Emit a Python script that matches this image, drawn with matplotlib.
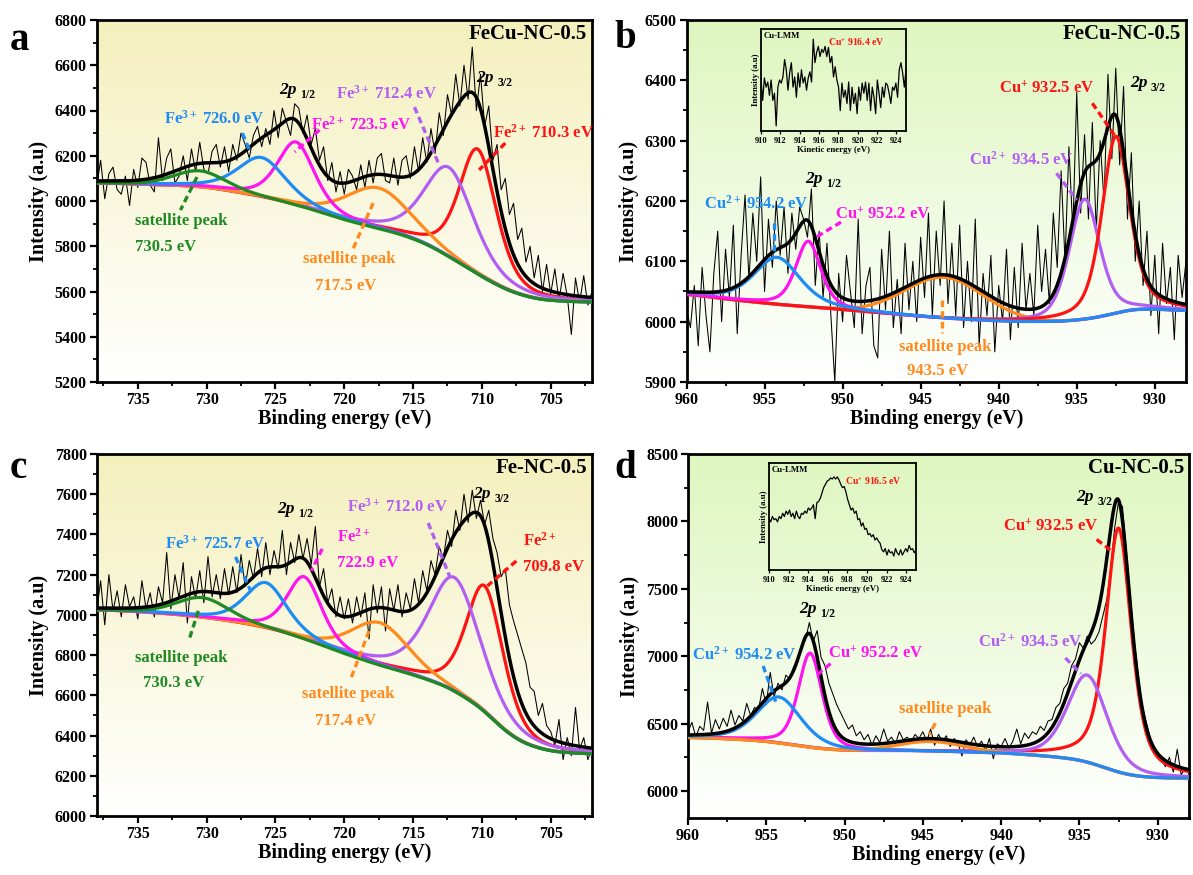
import numpy as np
import matplotlib
matplotlib.use("Agg")
import matplotlib.pyplot as plt
from matplotlib.colors import LinearSegmentedColormap
from matplotlib.ticker import MultipleLocator

plt.rcParams.update({
    "font.family": ["Liberation Serif", "DejaVu Serif"],
    "font.weight": "bold",
    "axes.labelweight": "bold",
    "mathtext.fontset": "custom",
    "mathtext.rm": "Liberation Serif:bold",
    "mathtext.bf": "Liberation Serif:bold",
    "mathtext.it": "Liberation Serif:bold:italic",
})

# ---------------- measured spectra ----------------
FE_BE = np.linspace(738.0, 702.0, 121)      # Fe 2p binding energy grid (eV)
CU_BE = np.linspace(960.0, 928.0, 129)      # Cu 2p binding energy grid (eV)
KE = np.linspace(910.0, 925.0, 87)          # Cu LMM kinetic energy grid (eV)

A_RAW = [
    6060, 6180, 6010, 6120, 6150, 6050, 6030, 6110, 5980, 6140,
    6060, 6190, 6170, 6070, 6040, 6280, 6090, 6190, 6230, 6080,
    6110, 6200, 6090, 6230, 6130, 6260, 6140, 6120, 6220, 6250,
    6150, 6240, 6130, 6250, 6180, 6300, 6250, 6190, 6290, 6330,
    6240, 6320, 6250, 6400, 6280, 6410, 6350, 6290, 6430, 6410,
    6300, 6380, 6250, 6320, 6180, 6240, 6090, 6170, 6040, 6130,
    6030, 6140, 6110, 6050, 6160, 6060, 6180, 6080, 6190, 6210,
    6090, 6080, 6190, 6070, 6180, 6200, 6100, 6240, 6130, 6280,
    6170, 6320, 6210, 6390, 6290, 6470, 6380, 6560, 6420, 6600,
    6450, 6680, 6400, 6560, 6330, 6420, 6180, 6250, 6050, 6100,
    5940, 5990, 5830, 5880, 5730, 5800, 5660, 5760, 5600, 5720,
    5590, 5700, 5560, 5680, 5580, 5410, 5660, 5550, 5670, 5540,
    5600,
]

B_RAW = [
    6020, 5990, 6060, 5960, 6090, 6010, 5950, 6080, 6150, 6000,
    6120, 6040, 6160, 5980, 6110, 6210, 6070, 6180, 6100, 6240,
    6050, 6170, 6090, 6200, 6110, 6190, 6080, 6180, 6120, 6190,
    6170, 6140, 6220, 6060, 6150, 6040, 6130, 6010, 5900, 6080,
    6000, 6110, 6050, 5990, 6170, 5980, 6060, 6090, 5960, 5940,
    6120, 6020, 6150, 5990, 6070, 5980, 6130, 6020, 6100, 6000,
    6140, 6040, 6180, 6010, 6150, 6060, 6200, 6030, 6130, 6010,
    6160, 5990, 6100, 6000, 6170, 5960, 6080, 6010, 6110, 5950,
    6060, 6000, 6120, 5970, 6090, 5990, 6130, 6020, 6080, 6010,
    6160, 6050, 6120, 6030, 6180, 6090, 6250, 6100, 6290, 6150,
    6380, 6180, 6310, 6170, 6330, 6150, 6300, 6200, 6410, 6270,
    6420, 6260, 6390, 6170, 6280, 6100, 6200, 6060, 6150, 6010,
    6110, 5980, 6130, 6030, 6090, 5970, 6110, 6040, 6100,
]

C_RAW = [
    7010, 7170, 6950, 7200, 7020, 7120, 6990, 7150, 7040, 7090,
    6980, 7170, 7030, 7110, 6990, 7140, 7060, 7310, 7030, 7200,
    7080, 7260, 6960, 7190, 7080, 7220, 7060, 7290, 7090, 7200,
    7080, 7230, 7100, 7240, 7110, 7300, 7140, 7270, 7180, 7330,
    7190, 7360, 7200, 7320, 7230, 7420, 7200, 7360, 7260, 7400,
    7280, 7380, 7250, 7440, 7140, 7230, 7060, 7130, 6990, 7090,
    6980, 7080, 6960, 7090, 6990, 7110, 6880, 7150, 7010, 7140,
    6920, 7130, 7020, 7150, 6990, 7110, 7030, 7180, 7060, 7220,
    7120, 7270, 7200, 7340, 7280, 7420, 7340, 7520, 7420, 7600,
    7460, 7620, 7480, 7570, 7450, 7520, 7380, 7310, 7190, 7230,
    7050, 6970, 6900, 6830, 6760, 6640, 6620, 6500, 6560, 6450,
    6420, 6350, 6480, 6280, 6390, 6300, 6540, 6330, 6390, 6280,
    6340,
]

D_RAW = [
    6440, 6510, 6400, 6480, 6450, 6660, 6430, 6530, 6460, 6540,
    6480, 6600, 6490, 6560, 6520, 6650, 6560, 6620, 6600, 6760,
    6640, 6880, 6700, 6800, 6750, 6860, 6830, 6920, 6950, 7080,
    7120, 7250, 7110, 7190, 6990, 6930, 6800, 6720, 6640, 6580,
    6520, 6460, 6490, 6410, 6440, 6380, 6420, 6340, 6410, 6360,
    6460, 6370, 6400, 6350, 6440, 6380, 6400, 6360, 6420, 6390,
    6440, 6370, 6460, 6340, 6420, 6370, 6410, 6330, 6390, 6350,
    6260, 6380, 6340, 6400, 6330, 6370, 6300, 6390, 6240, 6350,
    6330, 6390, 6320, 6370, 6460, 6350, 6430, 6390, 6440, 6420,
    6480, 6450, 6520, 6530, 6620, 6650, 6760, 6800, 6930, 6980,
    7100, 7060, 7150, 7090, 7120, 7180, 7300, 7420, 7650, 7950,
    8150, 8110, 7780, 7450, 7120, 6870, 6640, 6520, 6400, 6330,
    6260, 6230, 6180, 6250, 6140, 6310, 6120, 6170, 6130,
]

LMM_B = [
    50, 30, 52, 43, 48, 35, 50, 30, 37, 5,
    43, 50, 47, 53, 70, 60, 40, 57, 67, 43,
    53, 33, 57, 43, 60, 47, 53, 40, 52, 58,
    48, 90, 67, 77, 83, 73, 80, 77, 83, 73,
    82, 67, 73, 53, 63, 50, 43, 20, 47, 33,
    40, 27, 48, 20, 43, 27, 37, 17, 43, 30,
    47, 37, 48, 30, 47, 20, 43, 33, 17, 50,
    37, 23, 43, 33, 47, 45, 37, 27, 43, 40,
    47, 33, 60, 67, 57, 43, 60,
]

LMM_D = [
    48, 45, 50, 47, 48, 45, 50, 48, 53, 50,
    55, 52, 56, 50, 53, 48, 55, 50, 48, 53,
    52, 55, 53, 58, 56, 58, 61, 48, 63, 64,
    67, 72, 77, 80, 83, 84, 86, 85, 87, 85,
    87, 84, 80, 77, 78, 73, 66, 61, 56, 58,
    53, 55, 47, 48, 41, 44, 38, 39, 33, 34,
    31, 33, 28, 30, 27, 25, 19, 17, 20, 14,
    19, 16, 17, 13, 20, 16, 14, 19, 14, 17,
    20, 17, 23, 19, 20, 16, 19,
]

# ---------------- peak-fit parameters ----------------
# Fe 2p, FeCu-NC-0.5: Fe2+, Fe3+, satellite, Fe2+, Fe3+, satellite
A_CENTER = [710.3, 712.4, 717.5, 723.5, 726.0, 730.5]
A_HEIGHT = [553, 395, 180, 280, 175, 72]
A_FWHM = [3.2, 4.3, 5.5, 3.2, 4.2, 4.5]
A_ETA = [0.45, 0.5, 0.3, 0.5, 0.5, 0.3]
A_BG_E = [738, 735, 732, 730, 728, 726, 724, 722, 720, 718, 716, 714, 712, 710, 708, 706, 704, 702]
A_BG_I = [6080, 6073, 6068, 6060, 6040, 6018, 5990, 5955, 5916, 5885, 5855, 5810, 5740, 5664, 5600, 5565, 5556, 5553]

# Cu 2p, FeCu-NC-0.5: Cu+, Cu2+, satellite, Cu+, Cu2+
B_CENTER = [932.5, 934.5, 943.5, 952.2, 954.2]
B_HEIGHT = [293, 199, 68, 109, 78]
B_FWHM = [2.1, 2.3, 6.0, 1.9, 3.5]
B_ETA = [0.5, 0.4, 0.0, 0.5, 0.5]
B_BG_E = [960, 957, 954, 951, 948, 945, 942, 939, 936, 934, 932.5, 931.5, 930, 928]
B_BG_I = [6046, 6036, 6028, 6022, 6015, 6008, 6003, 6000, 6000, 6005, 6014, 6021, 6021, 6018]

# Fe 2p, Fe-NC-0.5
C_CENTER = [709.8, 712.0, 717.4, 722.9, 725.7, 730.3]
C_HEIGHT = [627, 566, 212, 311, 226, 99]
C_FWHM = [3.2, 4.5, 5.0, 3.0, 3.6, 4.5]
C_ETA = [0.45, 0.5, 0.3, 0.5, 0.5, 0.3]
C_BG_E = [738, 735, 732, 730, 727.5, 725, 722.5, 720, 717.5, 715, 712.5, 710, 708.5, 707, 705, 702]
C_BG_I = [7025, 7016, 7000, 6985, 6960, 6925, 6870, 6806, 6750, 6702, 6643, 6537, 6430, 6360, 6320, 6308]

# Cu 2p, Cu-NC-0.5
D_CENTER = [932.5, 934.5, 944.5, 952.2, 954.2]
D_HEIGHT = [1810, 647, 74, 700, 342]
D_FWHM = [1.95, 3.0, 5.0, 1.8, 3.4]
D_ETA = [0.6, 0.4, 0.0, 0.45, 0.45]
D_BG_E = [960, 957, 955, 953.5, 952, 950, 945, 940, 937, 935, 934, 933, 932, 931, 930, 928]
D_BG_I = [6398, 6385, 6369, 6345, 6318, 6299, 6295, 6282, 6258, 6233, 6200, 6155, 6120, 6105, 6098, 6095]

# ---------------- styles ----------------
RED = "#FF1212"
PURPLE = "#B25EF2"
MAGENTA = "#FF14F0"
BLUE = "#1E8CF2"
ORANGE = "#FF8A1E"
GREEN = "#1F8A22"
FE_COLORS = [RED, PURPLE, ORANGE, MAGENTA, BLUE, GREEN]
CU_COLORS = [RED, PURPLE, ORANGE, MAGENTA, BLUE]
YELLOW_TOP = "#F4F0BD"
GREEN_TOP = "#DEF6BF"


def pseudo_voigt(x, c, h, w, eta):
    d = (x - c) / w
    g = np.exp(-4.0 * np.log(2.0) * d ** 2)
    lor = 1.0 / (1.0 + 4.0 * d ** 2)
    return h * (eta * lor + (1.0 - eta) * g)


def background(x, knot_e, knot_i, sigma=0.7):
    ke = np.asarray(knot_e, float)
    ki = np.asarray(knot_i, float)
    order = np.argsort(ke)
    ke, ki = ke[order], ki[order]
    fine = np.linspace(ke[0], ke[-1], 3000)
    base = np.interp(fine, ke, ki)
    step = fine[1] - fine[0]
    half = int(4 * sigma / step)
    kern = np.exp(-0.5 * (np.arange(-half, half + 1) * step / sigma) ** 2)
    kern /= kern.sum()
    padded = np.concatenate([np.full(half, base[0]), base, np.full(half, base[-1])])
    smooth = np.convolve(padded, kern, mode="valid")
    return np.interp(x, fine, smooth)


def gradient(ax, top_color):
    cmap = LinearSegmentedColormap.from_list("bg", ["#FFFFFF", top_color])
    grad = np.linspace(0, 1, 256).reshape(-1, 1)
    ax.imshow(grad, cmap=cmap, aspect="auto", extent=[0, 1, 0, 1],
              transform=ax.transAxes, origin="lower", zorder=0,
              interpolation="bicubic")


def draw_panel(ax, be, raw, xlim, ylim, centers, heights, fwhms, etas, colors,
               bg_e, bg_i, top_color, xmaj, ymaj, draw_order):
    gradient(ax, top_color)
    grid = np.linspace(xlim[0], xlim[1], 900)
    bg = background(grid, bg_e, bg_i)
    comps = [pseudo_voigt(grid, c, h, w, e) for c, h, w, e in zip(centers, heights, fwhms, etas)]
    ax.plot(be, raw, color="black", lw=0.75, zorder=2)
    for i in draw_order:
        ax.plot(grid, bg + comps[i], color=colors[i], lw=2.3, zorder=3)
    ax.plot(grid, bg + np.sum(comps, axis=0), color="black", lw=2.5, zorder=4)
    ax.set_xlim(*xlim)
    ax.set_ylim(*ylim)
    ax.xaxis.set_major_locator(MultipleLocator(xmaj))
    ax.xaxis.set_minor_locator(MultipleLocator(xmaj / 2))
    ax.yaxis.set_major_locator(MultipleLocator(ymaj))
    ax.yaxis.set_minor_locator(MultipleLocator(ymaj / 2))
    ax.tick_params(which="major", direction="out", length=5, width=1.6,
                   labelsize=11.5, top=False, right=False, pad=2)
    ax.tick_params(which="minor", direction="out", length=3, width=1.3,
                   top=False, right=False)
    for s in ax.spines.values():
        s.set_linewidth(2.0)
    ax.set_xlabel("Binding energy (eV)", fontsize=14.5)
    ax.set_ylabel("Intensity (a.u)", fontsize=14.5)
    ax.xaxis.set_label_coords(0.5, -0.075)
    ax.yaxis.set_label_coords(-0.095, 0.5)


def note(ax, xy, text, color, size=12):
    ax.text(xy[0], xy[1], text, color=color, fontsize=size, fontweight="bold",
            ha="left", va="center", zorder=6)


def dash(ax, p1, p2, color):
    ax.plot([p1[0], p2[0]], [p1[1], p2[1]], color=color, lw=2.4,
            ls=(0, (2.0, 1.2)), zorder=6)


def orbital(ax, xy, sub):
    ax.text(xy[0], xy[1], "2p", fontsize=12.5, fontweight="bold", fontstyle="italic",
            ha="left", va="baseline", zorder=6)
    ax.annotate(sub, xy=xy, xytext=(15, -3), textcoords="offset points",
                fontsize=8.5, fontweight="bold", ha="left", va="baseline", zorder=6)


def sample(ax, name):
    ax.text(0.99, 0.99, name, transform=ax.transAxes, fontsize=15, fontweight="bold",
            ha="right", va="top", zorder=6)


def lmm_inset(fig, rect, data, peak_label):
    ins = fig.add_axes(rect)
    ins.set_facecolor("none")
    ins.plot(KE, data, color="black", lw=0.9)
    ins.set_xlim(910, 925)
    ins.set_ylim(0, 100)
    ins.set_xticks(np.arange(910, 925, 2))
    ins.set_yticks([])
    ins.tick_params(axis="x", direction="out", length=2.5, width=0.9, labelsize=6, pad=1.5)
    for s in ins.spines.values():
        s.set_linewidth(1.3)
    ins.set_xlabel("Kinetic energy (eV)", fontsize=6.3, labelpad=1)
    ins.set_ylabel("Intensity (a.u)", fontsize=6.3, labelpad=1)
    ins.text(0.02, 0.97, "Cu-LMM", transform=ins.transAxes, fontsize=6.3,
             fontweight="bold", ha="left", va="top")
    ins.text(peak_label[0], peak_label[1], peak_label[2], transform=ins.transAxes,
             fontsize=7, fontweight="bold", color=RED, ha="left", va="center")
    return ins


fig = plt.figure(figsize=(11.93, 8.75), dpi=100)
W, H = 1193.0, 875.0


def rect(l, t, r, b):
    return [l / W, 1 - b / H, (r - l) / W, (b - t) / H]


ax_a = fig.add_axes(rect(96.5, 20, 592, 382))
ax_b = fig.add_axes(rect(686.5, 20, 1186, 382))
ax_c = fig.add_axes(rect(96.5, 454, 592, 816))
ax_d = fig.add_axes(rect(688, 454, 1189, 818))

# ---------------- panel a ----------------
draw_panel(ax_a, FE_BE, A_RAW, (738, 702), (5200, 6800), A_CENTER, A_HEIGHT, A_FWHM,
           A_ETA, FE_COLORS, A_BG_E, A_BG_I, YELLOW_TOP, 5, 200, [0, 1, 2, 3, 4, 5])
sample(ax_a, "FeCu-NC-0.5")
orbital(ax_a, (724.7, 6473), "1/2")
orbital(ax_a, (710.4, 6527), "3/2")
note(ax_a, (709.2, 6300), f"Fe$^{{2+}}$ {A_CENTER[0]:.1f} eV", RED)
dash(ax_a, (708.3, 6256), (710.2, 6137), RED)
note(ax_a, (720.6, 6473), f"Fe$^{{3+}}$ {A_CENTER[1]:.1f} eV", PURPLE)
dash(ax_a, (714.9, 6415), (713.1, 6159), PURPLE)
note(ax_a, (723.0, 5744), "satellite peak", ORANGE)
note(ax_a, (722.1, 5624), f"{A_CENTER[2]:.1f} eV", ORANGE)
dash(ax_a, (717.9, 5991), (719.4, 5783), ORANGE)
note(ax_a, (722.4, 6336), f"Fe$^{{2+}}$ {A_CENTER[3]:.1f} eV", MAGENTA)
dash(ax_a, (721.8, 6314), (723.6, 6217), MAGENTA)
note(ax_a, (733.1, 6362), f"Fe$^{{3+}}$ {A_CENTER[4]:.1f} eV", BLUE)
dash(ax_a, (727.4, 6300), (726.8, 6212), BLUE)
note(ax_a, (735.2, 5912), "satellite peak", GREEN)
note(ax_a, (735.2, 5797), f"{A_CENTER[5]:.1f} eV", GREEN)
dash(ax_a, (730.7, 6106), (731.9, 5960), GREEN)

# ---------------- panel b ----------------
draw_panel(ax_b, CU_BE, B_RAW, (960, 928), (5900, 6500), B_CENTER, B_HEIGHT, B_FWHM,
           B_ETA, CU_COLORS, B_BG_E, B_BG_I, GREEN_TOP, 5, 100, [2, 1, 0, 3, 4])
sample(ax_b, "FeCu-NC-0.5")
orbital(ax_b, (952.4, 6230), "1/2")
orbital(ax_b, (931.6, 6389), "3/2")
note(ax_b, (940.0, 6386), f"Cu$^{{+}}$ {B_CENTER[0]:.1f} eV", RED)
dash(ax_b, (934.0, 6362), (932.5, 6306), RED)
note(ax_b, (941.9, 6268), f"Cu$^{{2+}}$ {B_CENTER[1]:.1f} eV", PURPLE)
dash(ax_b, (936.3, 6246), (935.0, 6202), PURPLE)
note(ax_b, (946.4, 5958), "satellite peak", ORANGE)
note(ax_b, (945.9, 5918), f"{B_CENTER[2]:.1f} eV", ORANGE)
dash(ax_b, (943.6, 6036), (943.6, 5981), ORANGE)
note(ax_b, (950.5, 6178), f"Cu$^{{+}}$ {B_CENTER[3]:.1f} eV", MAGENTA)
dash(ax_b, (950.1, 6165), (951.7, 6140), MAGENTA)
note(ax_b, (958.9, 6195), f"Cu$^{{2+}}$ {B_CENTER[4]:.1f} eV", BLUE)
dash(ax_b, (954.4, 6163), (954.4, 6114), BLUE)
lmm_inset(fig, rect(761, 29, 906, 131), LMM_B, (0.46, 0.875, "Cu$^{+}$ 916.4 eV"))

# ---------------- panel c ----------------
draw_panel(ax_c, FE_BE, C_RAW, (738, 702), (6000, 7800), C_CENTER, C_HEIGHT, C_FWHM,
           C_ETA, FE_COLORS, C_BG_E, C_BG_I, YELLOW_TOP, 5, 200, [0, 1, 2, 3, 4, 5])
sample(ax_c, "Fe-NC-0.5")
orbital(ax_c, (724.9, 7507), "1/2")
orbital(ax_c, (710.6, 7581), "3/2")
note(ax_c, (707.0, 7368), "Fe$^{2+}$", RED)
note(ax_c, (707.0, 7238), f"{C_CENTER[0]:.1f} eV", RED)
dash(ax_c, (707.5, 7268), (709.6, 7144), RED)
note(ax_c, (719.8, 7537), f"Fe$^{{3+}}$ {C_CENTER[1]:.1f} eV", PURPLE)
dash(ax_c, (713.9, 7457), (712.3, 7184), PURPLE)
note(ax_c, (723.1, 6607), "satellite peak", ORANGE)
note(ax_c, (722.1, 6473), f"{C_CENTER[2]:.1f} eV", ORANGE)
dash(ax_c, (718.2, 6920), (719.5, 6687), ORANGE)
note(ax_c, (720.5, 7388), "Fe$^{2+}$", MAGENTA)
note(ax_c, (720.5, 7258), f"{C_CENTER[3]:.1f} eV", MAGENTA)
dash(ax_c, (721.6, 7328), (722.4, 7219), MAGENTA)
note(ax_c, (733.0, 7353), f"Fe$^{{3+}}$ {C_CENTER[4]:.1f} eV", BLUE)
dash(ax_c, (727.9, 7288), (726.8, 7119), BLUE)
note(ax_c, (735.2, 6786), "satellite peak", GREEN)
note(ax_c, (734.6, 6662), f"{C_CENTER[5]:.1f} eV", GREEN)
dash(ax_c, (730.6, 7020), (731.3, 6871), GREEN)

# ---------------- panel d ----------------
draw_panel(ax_d, CU_BE, D_RAW, (960, 928), (5800, 8500), D_CENTER, D_HEIGHT, D_FWHM,
           D_ETA, CU_COLORS, D_BG_E, D_BG_I, GREEN_TOP, 5, 500, [0, 1, 3, 2, 4])
sample(ax_d, "Cu-NC-0.5")
orbital(ax_d, (952.9, 7321), "1/2")
orbital(ax_d, (935.2, 8149), "3/2")
note(ax_d, (939.9, 7964), f"Cu$^{{+}}$ {D_CENTER[0]:.1f} eV", RED)
dash(ax_d, (933.9, 7866), (932.8, 7768), RED)
note(ax_d, (941.5, 7105), f"Cu$^{{2+}}$ {D_CENTER[1]:.1f} eV", PURPLE)
dash(ax_d, (935.9, 6987), (934.9, 6871), PURPLE)
note(ax_d, (946.5, 6606), "satellite peak", ORANGE)
dash(ax_d, (944.2, 6503), (944.6, 6417), ORANGE)
note(ax_d, (951.05, 7018), f"Cu$^{{+}}$ {D_CENTER[3]:.1f} eV", MAGENTA)
dash(ax_d, (950.9, 6945), (951.9, 6847), MAGENTA)
note(ax_d, (959.75, 7011), f"Cu$^{{2+}}$ {D_CENTER[4]:.1f} eV", BLUE)
dash(ax_d, (955.2, 6928), (954.4, 6663), BLUE)
lmm_inset(fig, rect(769, 463, 916, 570), LMM_D, (0.52, 0.83, "Cu$^{+}$ 916.5 eV"))

# panel letters
for x, y, letter in [(10, 50, "a"), (614, 48, "b"), (10, 478, "c"), (614, 478, "d")]:
    fig.text(x / W, 1 - y / H, letter, fontsize=28, fontweight="bold",
             ha="left", va="baseline")

fig.savefig("out.png", dpi=100)
